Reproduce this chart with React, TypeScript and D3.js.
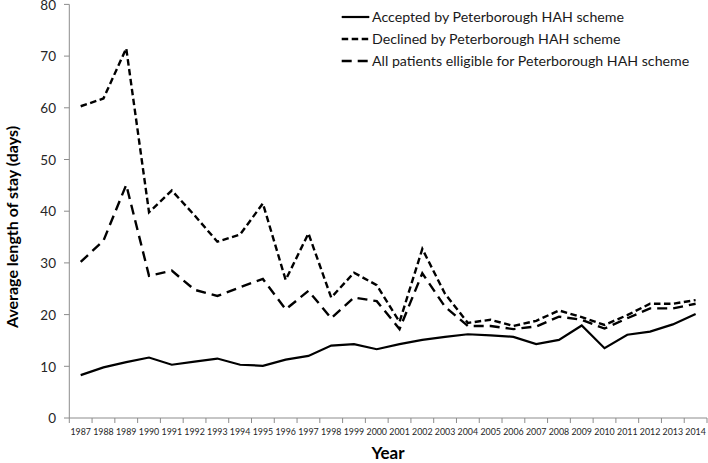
import React from "react";
import * as d3 from "d3";

const years: string[] = d3.range(1987, 2015).map(String);
const accepted: number[] = [8.3, 9.8, 10.8, 11.7, 10.3, 10.9, 11.5, 10.3, 10.1, 11.3, 12.0, 14.0, 14.3, 13.3, 14.3, 15.1, 15.7, 16.2, 16.0, 15.7, 14.3, 15.1, 17.9, 13.5, 16.1, 16.7, 18.1, 20.1];
const declined: number[] = [60.3, 61.8, 71.5, 39.8, 44.0, 39.2, 34.1, 35.5, 41.5, 26.7, 35.7, 23.3, 28.1, 25.7, 18.6, 32.7, 24.0, 18.4, 19.0, 17.8, 18.8, 20.8, 19.5, 18.0, 19.9, 22.1, 22.1, 22.8];
const allPatients: number[] = [30.2, 34.3, 45.1, 27.5, 28.5, 24.8, 23.6, 25.3, 26.9, 21.0, 24.6, 19.3, 23.3, 22.6, 17.2, 28.0, 21.5, 17.8, 17.8, 17.2, 17.7, 19.6, 19.0, 17.3, 19.3, 21.2, 21.2, 22.1];
const yTicks: number[] = [0, 10, 20, 30, 40, 50, 60, 70, 80];
const seriesNames: string[] = [
  "Accepted by Peterborough HAH scheme",
  "Declined by Peterborough HAH scheme",
  "All patients elligible for Peterborough HAH scheme",
];

const W = 708;
const H = 463;
const FONT = "Lato, 'Open Sans', sans-serif";

export default function App() {
  const x = d3.scaleBand<string>().domain(years).range([69.3, 707]).padding(0);
  const y = d3.scaleLinear().domain([0, 80]).range([418, 4.4]);
  const cx = (i: number) => (x(years[i]) as number) + x.bandwidth() / 2;
  const line = d3
    .line<number>()
    .x((_, i) => cx(i))
    .y((d) => y(d));

  const series = [
    { name: seriesNames[0], data: accepted, dash: "none", sw: 2.2 },
    { name: seriesNames[1], data: declined, dash: "6.5,3.5", sw: 2.4 },
    { name: seriesNames[2], data: allPatients, dash: "10,6", sw: 2.4 },
  ];
  const axisColor = "#8c8c8c";
  const boundaries = years.map((yr) => x(yr) as number).concat([x.range()[1]]);

  return (
    <div style={{ position: "absolute", left: 0, top: 0 }}>
      <svg width={W} height={H} style={{ display: "block", background: "#fff" }}>
        {/* Y axis */}
        <line x1={69.3} x2={69.3} y1={y(80)} y2={y(0)} stroke={axisColor} strokeWidth={1} />
        {yTicks.map((t) => (
          <g key={t}>
            <line x1={64} x2={69.3} y1={y(t)} y2={y(t)} stroke={axisColor} strokeWidth={1} />
            <text x={56} y={y(t) + 5.2} textAnchor="end" fontFamily={FONT} fontSize={13.5} fill="#262626">
              {t}
            </text>
          </g>
        ))}
        {/* X axis */}
        <line x1={69.3} x2={707} y1={y(0)} y2={y(0)} stroke={axisColor} strokeWidth={1} />
        {boundaries.map((b, i) => (
          <line key={i} x1={b} x2={b} y1={y(0)} y2={y(0) + 5} stroke={axisColor} strokeWidth={1} />
        ))}
        {years.map((yr, i) => (
          <text
            key={yr}
            x={cx(i)}
            y={435}
            textAnchor="middle"
            fontFamily={FONT}
            fontSize={10}
            fill="#262626"
            textLength={20.5}
            lengthAdjust="spacingAndGlyphs"
          >
            {yr}
          </text>
        ))}
        {/* Axis titles */}
        <text x={388} y={459} textAnchor="middle" fontFamily={FONT} fontWeight="bold" fontSize={17} fill="#000">
          Year
        </text>
        <text
          transform={`translate(18,${227}) rotate(-90)`}
          textAnchor="middle"
          fontFamily={FONT}
          fontWeight="bold"
          fontSize={16}
          fill="#000"
        >
          Average length of stay (days)
        </text>
        {/* Lines */}
        {series.map((s) => (
          <path
            key={s.name}
            d={line(s.data) as string}
            fill="none"
            stroke="#000"
            strokeWidth={s.sw}
            strokeDasharray={s.dash}
            strokeLinejoin="miter"
          />
        ))}
        {/* Legend */}
        {series.map((s, i) => {
          const ly = 17 + i * 22;
          return (
            <g key={s.name}>
              <line
                x1={341.7}
                x2={369.3}
                y1={ly}
                y2={ly}
                stroke="#000"
                strokeWidth={s.sw}
                strokeDasharray={s.dash}
              />
              <text x={372} y={ly + 5} fontFamily={FONT} fontSize={14.2} fill="#1a1a1a">
                {s.name}
              </text>
            </g>
          );
        })}
      </svg>
    </div>
  );
}
